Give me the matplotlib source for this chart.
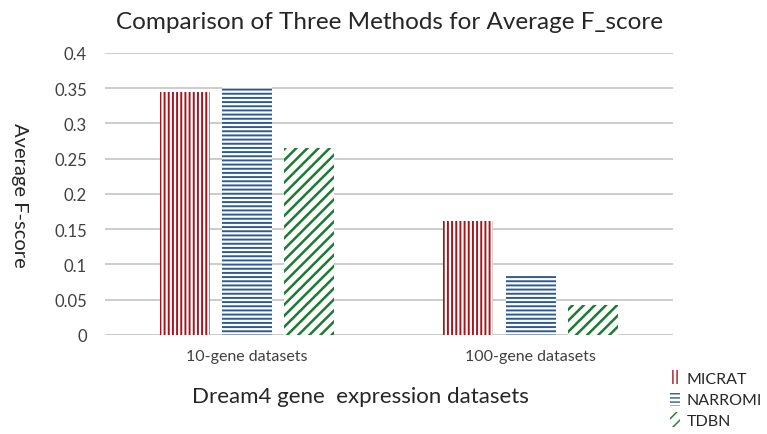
import matplotlib
matplotlib.use("Agg")
import matplotlib.pyplot as plt
import numpy as np
from matplotlib.patches import Patch

plt.rcParams['font.family'] = ['Lato', 'DejaVu Sans']

categories = ["10-gene datasets", "100-gene datasets"]
methods = ["MICRAT", "NARROMI", "TDBN"]
micrat = [0.345, 0.161]
narromi = [0.352, 0.086]
tdbn = [0.265, 0.043]
yticks = [0, 0.05, 0.1, 0.15, 0.2, 0.25, 0.3, 0.35, 0.4]
ytick_labels = ["0", "0.05", "0.1", "0.15", "0.2", "0.25", "0.3", "0.35", "0.4"]

series = [micrat, narromi, tdbn]
colors = ["#a8141c", "#2f5a93", "#1d7a33"]
hatches = ["||||", "----", "///"]
hatch_lw = [1.4, 1.4, 1.8]

fig = plt.figure(figsize=(7.67, 4.35), dpi=100)
ax = fig.add_axes([0.137, 0.2276, 0.74, 0.6483])

x = np.arange(len(categories))
width = 0.176
offsets = [-0.22, 0.0, 0.22]
for vals, c, h, lw, off in zip(series, colors, hatches, hatch_lw, offsets):
    bars = ax.bar(x + off, vals, width, facecolor="white", edgecolor=c,
                  hatch=h, linewidth=0, zorder=3)
    for b in bars:
        b.set_hatch_linewidth(lw)

ax.set_xlim(-0.5, 1.5)
ax.set_ylim(0, 0.4)
ax.set_yticks(yticks)
ax.set_yticklabels(ytick_labels, fontsize=12, color="#404040")
ax.set_xticks(x)
ax.set_xticklabels(categories, fontsize=11.5, color="#404040")
ax.tick_params(axis='x', length=0, pad=10)
ax.tick_params(axis='y', length=0, pad=13)
for s in ax.spines.values():
    s.set_visible(False)
ax.yaxis.grid(True, color="#c8c8c8", linewidth=1.3, zorder=0)
ax.set_axisbelow(True)

fig.text(0.508, 0.948, "Comparison of Three Methods for Average F_score",
         ha="center", va="center", fontsize=17.5, color="#262626")
fig.text(0.470, 0.087, "Dream4 gene  expression datasets", ha="center",
         va="center", fontsize=16, color="#262626")
fig.text(0.025, 0.55, "Average F-score", ha="center", va="center",
         rotation=-90, fontsize=14.5, color="#262626")

handles = []
for c, h, m in zip(colors, hatches, methods):
    p = Patch(facecolor="white", edgecolor=c, hatch=h, linewidth=0, label=m)
    handles.append(p)
leg = fig.legend(handles=handles, loc="upper left",
                 bbox_to_anchor=(0.874, 0.147), frameon=False,
                 fontsize=11.5, handlelength=0.6, handleheight=1.0,
                 handletextpad=0.4, labelspacing=0.35, borderpad=0,
                 borderaxespad=0)
for txt in leg.get_texts():
    txt.set_color("#262626")

fig.savefig("out.png", dpi=100)
